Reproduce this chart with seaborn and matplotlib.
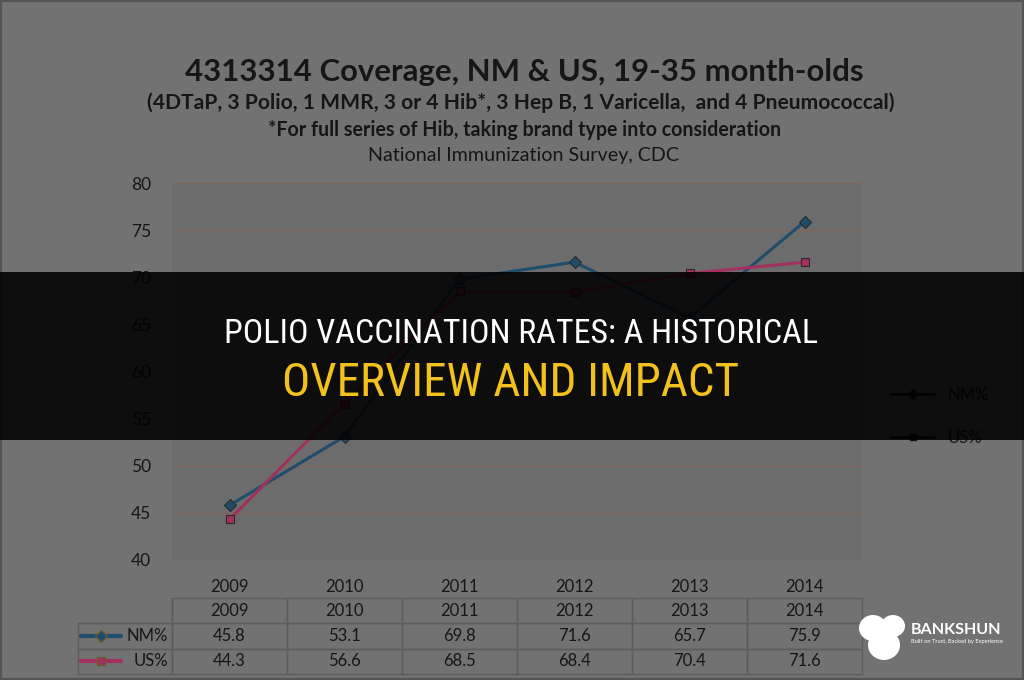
import numpy as np
import pandas as pd
import seaborn as sns
import matplotlib.pyplot as plt
from matplotlib import font_manager as fm
from matplotlib.font_manager import FontProperties
from matplotlib.patches import Rectangle, Ellipse
from matplotlib.lines import Line2D

# ---------------- data ----------------
years = ["2009", "2010", "2011", "2012", "2013", "2014"]
nm_values = [45.8, 53.1, 69.8, 71.6, 65.7, 75.9]
us_values = [44.3, 56.6, 68.5, 68.4, 70.4, 71.6]
series_names = ["NM%", "US%"]
y_ticks = [40, 45, 50, 55, 60, 65, 70, 75, 80]

title = "4313314 Coverage, NM & US, 19-35 month-olds"
subtitle1 = "(4DTaP, 3 Polio, 1 MMR, 3 or 4 Hib*, 3 Hep B, 1 Varicella,  and 4 Pneumococcal)"
subtitle2 = "*For full series of Hib, taking brand type into consideration"
subtitle3 = "National Immunization Survey, CDC"
banner_line1 = "POLIO VACCINATION RATES: A HISTORICAL"
banner_line2 = "OVERVIEW AND IMPACT"
brand = "BANKSHUN"
brand_tag = "Built on Trust, Backed by Experience"

df = pd.DataFrame({
    "Year": years * 2,
    "Value": nm_values + us_values,
    "Series": [series_names[0]] * len(years) + [series_names[1]] * len(years),
})

# ---------------- style ----------------
sns.set_theme(style="white")
plt.rcParams["font.family"] = ["Lato", "DejaVu Sans"]


def pick_condensed():
    prefs = ["Liberation Sans Narrow", "Roboto Condensed", "Noto Sans", "Open Sans",
             "DejaVu Sans", "Lato", "Inter"]
    cands = []
    for f in fm.fontManager.ttflist:
        st = str(f.stretch).lower()
        nm = f.name
        cond = ("narrow" in nm.lower() or "condensed" in nm.lower()
                or st in ("condensed", "semi-condensed", "extra-condensed")
                or "condensed" in f.fname.lower())
        if not cond:
            continue
        w = f.weight if isinstance(f.weight, int) else 400
        if w != 400 or str(f.style) != "normal":
            continue
        rank = next((i for i, p in enumerate(prefs) if nm.startswith(p)), len(prefs))
        cands.append((rank, "semi" in f.fname.lower() or "semi" in st, f.fname))
    if cands:
        cands.sort()
        return FontProperties(fname=cands[0][2])
    return FontProperties(family=["Roboto", "DejaVu Sans"])


banner_fp = pick_condensed()

W, H = 1024, 680
BG = "#727272"
PLOT_BG = "#6c6c6c"
TXT = "#161616"
palette = {"NM%": "#1f4d6b", "US%": "#a2305f"}
markers = {"NM%": "D", "US%": "s"}

fig = plt.figure(figsize=(W / 100, H / 100), dpi=100, facecolor=BG)
ax = fig.add_axes([172 / W, 1 - 560 / H, 690 / W, 377 / H])
ax.set_facecolor(PLOT_BG)

sns.lineplot(data=df, x="Year", y="Value", hue="Series", style="Series",
             palette=palette, markers=markers, dashes=False, sort=False,
             linewidth=2.2, markersize=6, markeredgecolor="#2a2a2a",
             markeredgewidth=0.8, legend=False, ax=ax, zorder=3)

ax.set_xlim(-0.5, len(years) - 0.5)
ax.set_ylim(y_ticks[0], y_ticks[-1])
ax.set_yticks(y_ticks)
ax.set_xlabel("")
ax.set_ylabel("")
for s in ax.spines.values():
    s.set_visible(False)
ax.yaxis.grid(True, color="#80665f", linewidth=1.0)
ax.set_axisbelow(True)
ax.tick_params(axis="y", length=0, pad=15, labelsize=12.5, labelcolor=TXT)
ax.tick_params(axis="x", length=0, pad=14, labelsize=12, labelcolor=TXT)

# ---------------- data table ----------------
lab_w = 94 / 690
cell_text = [[""] + years,
             [series_names[0]] + [f"{v:.1f}" for v in nm_values],
             [series_names[1]] + [f"{v:.1f}" for v in us_values]]
tbl = ax.table(cellText=cell_text, colWidths=[lab_w] + [1 / len(years)] * len(years),
               cellLoc="center", bbox=[-lab_w, (560 - 674) / 377, 1 + lab_w, 76 / 377])
tbl.auto_set_font_size(False)
tbl.set_fontsize(12)
for (r, c), cell in tbl.get_celld().items():
    cell.set_edgecolor("#5d5d5d")
    cell.set_facecolor("none")
    cell.set_linewidth(1)
    cell.get_text().set_color(TXT)
    if r == 0 and c == 0:
        cell.visible_edges = "BR"
    if c == 0 and r > 0:
        cell._loc = "right"
        cell.PAD = 0.04
        cell.get_text().set_horizontalalignment("right")

# legend keys inside row label cells
row_h = 76 / 377 / 3
y_bottom = (560 - 674) / 377
for i, name in enumerate(series_names):
    yc = y_bottom + row_h * (1.5 - i)
    ax.add_line(Line2D([-lab_w + 0.004, -lab_w + 0.033, -lab_w + 0.062], [yc, yc, yc],
                       transform=ax.transAxes, color=palette[name], lw=3,
                       marker=markers[name], markevery=[1], markersize=6,
                       markeredgecolor="#6a5a2a", clip_on=False))

# side legend (mostly hidden by the banner)
handles = [Line2D([], [], color="#151515", lw=2, marker=markers[n], markersize=5)
           for n in series_names]
fig.legend(handles, series_names, loc="upper left", bbox_to_anchor=(876 / W, 1 - 372 / H),
           frameon=False, fontsize=12, labelspacing=1.6, handlelength=2.6,
           labelcolor="#151515")

# ---------------- titles ----------------
fig.canvas.draw()
renderer = fig.canvas.get_renderer()


def fit_width(t, target):
    bb = t.get_window_extent(renderer)
    t.set_fontsize(t.get_fontsize() * target / bb.width)


t0 = fig.text(524 / W, 1 - 72 / H, title, ha="center", va="center",
              fontsize=20, fontweight="bold", color=TXT)
t1 = fig.text(521 / W, 1 - 103 / H, subtitle1, ha="center", va="center",
              fontsize=13, fontweight="bold", color=TXT)
t2 = fig.text(525 / W, 1 - 130 / H, subtitle2, ha="center", va="center",
              fontsize=12, fontweight="bold", color=TXT)
t3 = fig.text(524 / W, 1 - 155 / H, subtitle3, ha="center", va="center",
              fontsize=12, color=TXT)
for t, w in [(t0, 678), (t1, 742), (t2, 510), (t3, 310)]:
    fit_width(t, w)

# frame (under the banner)
fig.patches.append(Rectangle((0, 0), 1, 1, transform=fig.transFigure, facecolor="none",
                             edgecolor="#545454", linewidth=3, zorder=15))

# ---------------- overlay banner ----------------
fig.patches.append(Rectangle((0, 1 - 440 / H), 1, 168 / H, transform=fig.transFigure,
                             facecolor="#000000", edgecolor="none", linewidth=0,
                             alpha=0.88, zorder=20))
b1 = fig.text(521 / W, 1 - 334 / H, banner_line1, ha="center", va="center",
              fontproperties=banner_fp, fontsize=18, color="white", zorder=21)
b2 = fig.text(511 / W, 1 - 383 / H, banner_line2, ha="center", va="center",
              fontproperties=banner_fp, fontsize=25, color="#f2c11c", zorder=21)
fit_width(b1, 593)
fit_width(b2, 457)

# ---------------- brand logo ----------------
for (cx, cy, w, h) in [(873, 628, 28, 26), (893, 626, 24, 22), (884, 645, 32, 30)]:
    fig.patches.append(Ellipse((cx / W, 1 - cy / H), w / W, h / H,
                               transform=fig.transFigure, facecolor="white",
                               edgecolor="none", zorder=22))
bt = fig.text(911 / W, 1 - 630 / H, brand, ha="left", va="center", fontsize=14,
              fontweight="bold", color="white", zorder=22)
fit_width(bt, 92)
tt = fig.text(911 / W, 1 - 642 / H, brand_tag, ha="left", va="center", fontsize=4,
              color="white", zorder=22)
fit_width(tt, 92)

fig.savefig("out.png", dpi=100, facecolor=BG)
